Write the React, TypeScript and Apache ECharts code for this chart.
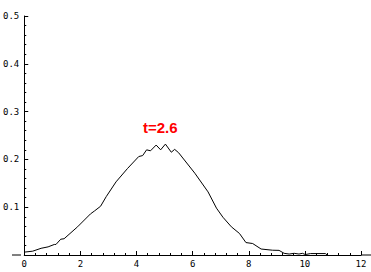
import React, { useEffect, useRef } from "react";
import * as echarts from "echarts";

const xValues = [0, 0.3, 0.6, 0.85, 1.07, 1.13, 1.3, 1.42, 1.9, 2.36, 2.5, 2.72, 2.92, 3.27, 3.68, 4.08, 4.22, 4.36, 4.5, 4.7, 4.86, 5.03, 5.24, 5.36, 5.5, 6.08, 6.55, 6.85, 7.08, 7.38, 7.67, 7.9, 8.14, 8.44, 8.85, 9.08, 9.26, 9.44, 9.62, 9.79, 9.91, 10.02, 10.2, 10.73, 10.8];
const yValues = [0.006, 0.008, 0.014, 0.017, 0.022, 0.022, 0.033, 0.034, 0.059, 0.086, 0.092, 0.102, 0.122, 0.153, 0.181, 0.206, 0.208, 0.22, 0.218, 0.23, 0.22, 0.232, 0.215, 0.221, 0.214, 0.171, 0.132, 0.098, 0.079, 0.059, 0.045, 0.026, 0.024, 0.0125, 0.01, 0.0097, 0.0035, 0.002, 0.0035, 0.002, 0.0035, 0.001, 0.003, 0.003, 0.0];
const xTicks = [0, 2, 4, 6, 8, 10, 12];
const yTicks = [0.1, 0.2, 0.3, 0.4, 0.5];
const label = "t=2.6";

export default function App() {
  const ref = useRef<HTMLDivElement>(null);
  useEffect(() => {
    const chart = echarts.init(ref.current!, null, { renderer: "svg" });
    const mono = "DejaVu Sans Mono";
    chart.setOption({
      animation: false,
      backgroundColor: "#fff",
      title: {
        text: label,
        left: 143,
        top: 120,
        padding: 0,
        textStyle: { color: "#ff0000", fontSize: 15, fontWeight: "bold", fontFamily: "Liberation Sans" },
      },
      grid: { left: 21, right: 10, top: 16, bottom: 17, containLabel: false },
      xAxis: {
        type: "value",
        min: 0,
        max: 12,
        interval: 2,
        axisLine: { show: true, lineStyle: { color: "#000", width: 1 } },
        axisTick: { show: true, inside: true, length: 4, lineStyle: { color: "#000" } },
        minorTick: { show: true, splitNumber: 5, length: 2, lineStyle: { color: "#000" } },
        splitLine: { show: false },
        axisLabel: {
          color: "#000",
          fontFamily: mono,
          fontSize: 9,
          margin: 4,
          formatter: (v: number) => (xTicks.includes(v) ? String(v) : ""),
        },
      },
      yAxis: {
        type: "value",
        min: 0,
        max: 0.5,
        interval: 0.1,
        axisLine: { show: true, onZero: false, lineStyle: { color: "#000", width: 1 } },
        axisTick: { show: true, inside: true, length: 4, lineStyle: { color: "#000" } },
        minorTick: { show: true, splitNumber: 5, length: 2, lineStyle: { color: "#000" } },
        splitLine: { show: false },
        axisLabel: {
          color: "#000",
          fontFamily: mono,
          fontSize: 9,
          margin: 5,
          formatter: (v: number) => {
            const m = yTicks.find((t) => Math.abs(t - v) < 1e-9);
            return m !== undefined ? m.toFixed(1) : "";
          },
        },
      },
      graphic: [
        { type: "line", shape: { x1: 12, y1: 255, x2: 21, y2: 255 }, style: { stroke: "#000", lineWidth: 1 } },
        { type: "line", shape: { x1: 361, y1: 255, x2: 371, y2: 255 }, style: { stroke: "#000", lineWidth: 1 } },
      ],
      series: [
        {
          type: "line",
          data: xValues.map((x, i) => [x, yValues[i]]),
          showSymbol: false,
          lineStyle: { color: "#000", width: 1 },
          itemStyle: { color: "#000" },
        },
      ],
    });
    return () => chart.dispose();
  }, []);
  return <div ref={ref} style={{ width: 371, height: 272, position: "absolute", left: 0, top: 0 }} />;
}
